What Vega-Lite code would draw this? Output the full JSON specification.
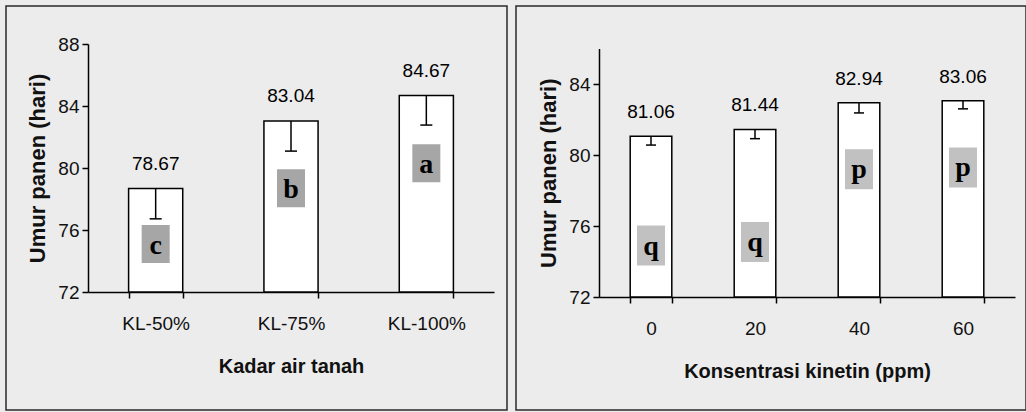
{
  "$schema": "https://vega.github.io/schema/vega-lite/v6.json",
  "background": "#ececec",
  "padding": {"left": 5, "top": 5, "right": 3, "bottom": 3},
  "spacing": 7,
  "datasets": {
    "kadar": [
      {"perlakuan": "KL-50%", "umur": 78.67, "bawah": 76.72, "huruf": "c", "posisi_huruf": 75.1},
      {"perlakuan": "KL-75%", "umur": 83.04, "bawah": 81.09, "huruf": "b", "posisi_huruf": 78.7},
      {"perlakuan": "KL-100%", "umur": 84.67, "bawah": 82.77, "huruf": "a", "posisi_huruf": 80.3}
    ],
    "kinetin": [
      {"kinetin": "0", "umur": 81.06, "bawah": 80.56, "huruf": "q", "posisi_huruf": 74.9},
      {"kinetin": "20", "umur": 81.44, "bawah": 80.92, "huruf": "q", "posisi_huruf": 75.1},
      {"kinetin": "40", "umur": 82.94, "bawah": 82.37, "huruf": "p", "posisi_huruf": 79.2},
      {"kinetin": "60", "umur": 83.06, "bawah": 82.6, "huruf": "p", "posisi_huruf": 79.3}
    ]
  },
  "hconcat": [
    {
      "width": 501,
      "height": 404,
      "data": {"name": "kadar"},
      "encoding": {
        "x": {
          "field": "perlakuan",
          "type": "nominal",
          "sort": null,
          "title": "Kadar air tanah",
          "scale": {"paddingInner": 0.6, "paddingOuter": 0.3, "range": [82, 488]},
          "axis": {"offset": -118, "tickBand": "extent", "labelAngle": 0, "labelPadding": 16, "titlePadding": 23}
        }
      },
      "layer": [
        {
          "mark": {"type": "bar", "fill": "white", "stroke": "black", "strokeWidth": 1.5},
          "encoding": {
            "y": {
              "field": "umur",
              "type": "quantitative",
              "title": "Umur panen (hari)",
              "scale": {"domain": [72, 88], "range": [286, 38], "zero": false, "nice": false},
              "axis": {"offset": -82, "values": [72, 76, 80, 84, 88], "labelPadding": 3, "titlePadding": 8, "titleFontSize": 22}
            },
            "y2": {"datum": 72}
          }
        },
        {
          "mark": {"type": "rule", "color": "black", "strokeWidth": 1.5},
          "encoding": {
            "y": {"field": "bawah", "type": "quantitative", "title": "Umur panen (hari)"},
            "y2": {"field": "umur"}
          }
        },
        {
          "mark": {"type": "tick", "color": "black", "size": 12, "thickness": 1.5, "opacity": 1},
          "encoding": {"y": {"field": "bawah", "type": "quantitative", "title": "Umur panen (hari)"}}
        },
        {
          "mark": {"type": "point", "shape": "M-0.737,-1H0.737V1H-0.737Z", "size": 1444, "filled": true, "fill": "#a6a6a6", "opacity": 1, "strokeWidth": 0},
          "encoding": {"y": {"field": "posisi_huruf", "type": "quantitative", "title": "Umur panen (hari)"}}
        },
        {
          "mark": {"type": "text", "font": "Liberation Serif", "fontWeight": "bold", "fontSize": 28, "baseline": "alphabetic", "dy": 10, "color": "black"},
          "encoding": {
            "y": {"field": "posisi_huruf", "type": "quantitative", "title": "Umur panen (hari)"},
            "text": {"field": "huruf"}
          }
        },
        {
          "mark": {"type": "text", "font": "Liberation Sans", "fontSize": 19, "baseline": "middle", "dy": -25, "color": "black"},
          "encoding": {
            "y": {"field": "umur", "type": "quantitative", "title": "Umur panen (hari)"},
            "text": {"field": "umur", "type": "quantitative", "format": ".2f"}
          }
        }
      ]
    },
    {
      "width": 510,
      "height": 404,
      "data": {"name": "kinetin"},
      "encoding": {
        "x": {
          "field": "kinetin",
          "type": "nominal",
          "sort": null,
          "title": "Konsentrasi kinetin (ppm)",
          "scale": {"paddingInner": 0.6, "paddingOuter": 0.3, "range": [83, 499]},
          "axis": {"offset": -113, "tickBand": "extent", "labelAngle": 0, "labelPadding": 16, "titlePadding": 23}
        }
      },
      "layer": [
        {
          "mark": {"type": "bar", "fill": "white", "stroke": "black", "strokeWidth": 1.5},
          "encoding": {
            "y": {
              "field": "umur",
              "type": "quantitative",
              "title": "Umur panen (hari)",
              "scale": {"domain": [72, 86], "range": [291, 42.5], "zero": false, "nice": false},
              "axis": {"offset": -83, "values": [72, 76, 80, 84], "labelPadding": 3, "titlePadding": 8, "titleFontSize": 22}
            },
            "y2": {"datum": 72}
          }
        },
        {
          "mark": {"type": "rule", "color": "black", "strokeWidth": 1.5},
          "encoding": {
            "y": {"field": "bawah", "type": "quantitative", "title": "Umur panen (hari)"},
            "y2": {"field": "umur"}
          }
        },
        {
          "mark": {"type": "tick", "color": "black", "size": 10, "thickness": 1.5, "opacity": 1},
          "encoding": {"y": {"field": "bawah", "type": "quantitative", "title": "Umur panen (hari)"}}
        },
        {
          "mark": {"type": "point", "shape": "M-0.7,-1H0.7V1H-0.7Z", "size": 1600, "filled": true, "fill": "#c1c1c1", "opacity": 1, "strokeWidth": 0},
          "encoding": {"y": {"field": "posisi_huruf", "type": "quantitative", "title": "Umur panen (hari)"}}
        },
        {
          "mark": {"type": "text", "font": "Liberation Serif", "fontWeight": "bold", "fontSize": 28, "baseline": "alphabetic", "dy": 9, "color": "black"},
          "encoding": {
            "y": {"field": "posisi_huruf", "type": "quantitative", "title": "Umur panen (hari)"},
            "text": {"field": "huruf"}
          }
        },
        {
          "mark": {"type": "text", "font": "Liberation Sans", "fontSize": 19, "baseline": "middle", "dy": -24, "color": "black"},
          "encoding": {
            "y": {"field": "umur", "type": "quantitative", "title": "Umur panen (hari)"},
            "text": {"field": "umur", "type": "quantitative", "format": ".2f"}
          }
        }
      ]
    }
  ],
  "config": {
    "font": "Liberation Sans",
    "view": {"stroke": "#2a2a2a", "strokeWidth": 1.5, "fill": null},
    "axis": {
      "grid": false,
      "domainColor": "black",
      "domainWidth": 1.5,
      "tickColor": "black",
      "tickWidth": 1.5,
      "tickSize": 6,
      "labelFont": "Liberation Sans",
      "labelFontSize": 19,
      "labelColor": "#111111",
      "titleFont": "Liberation Sans",
      "titleFontSize": 20,
      "titleFontWeight": "bold",
      "titleColor": "#111111"
    }
  }
}
